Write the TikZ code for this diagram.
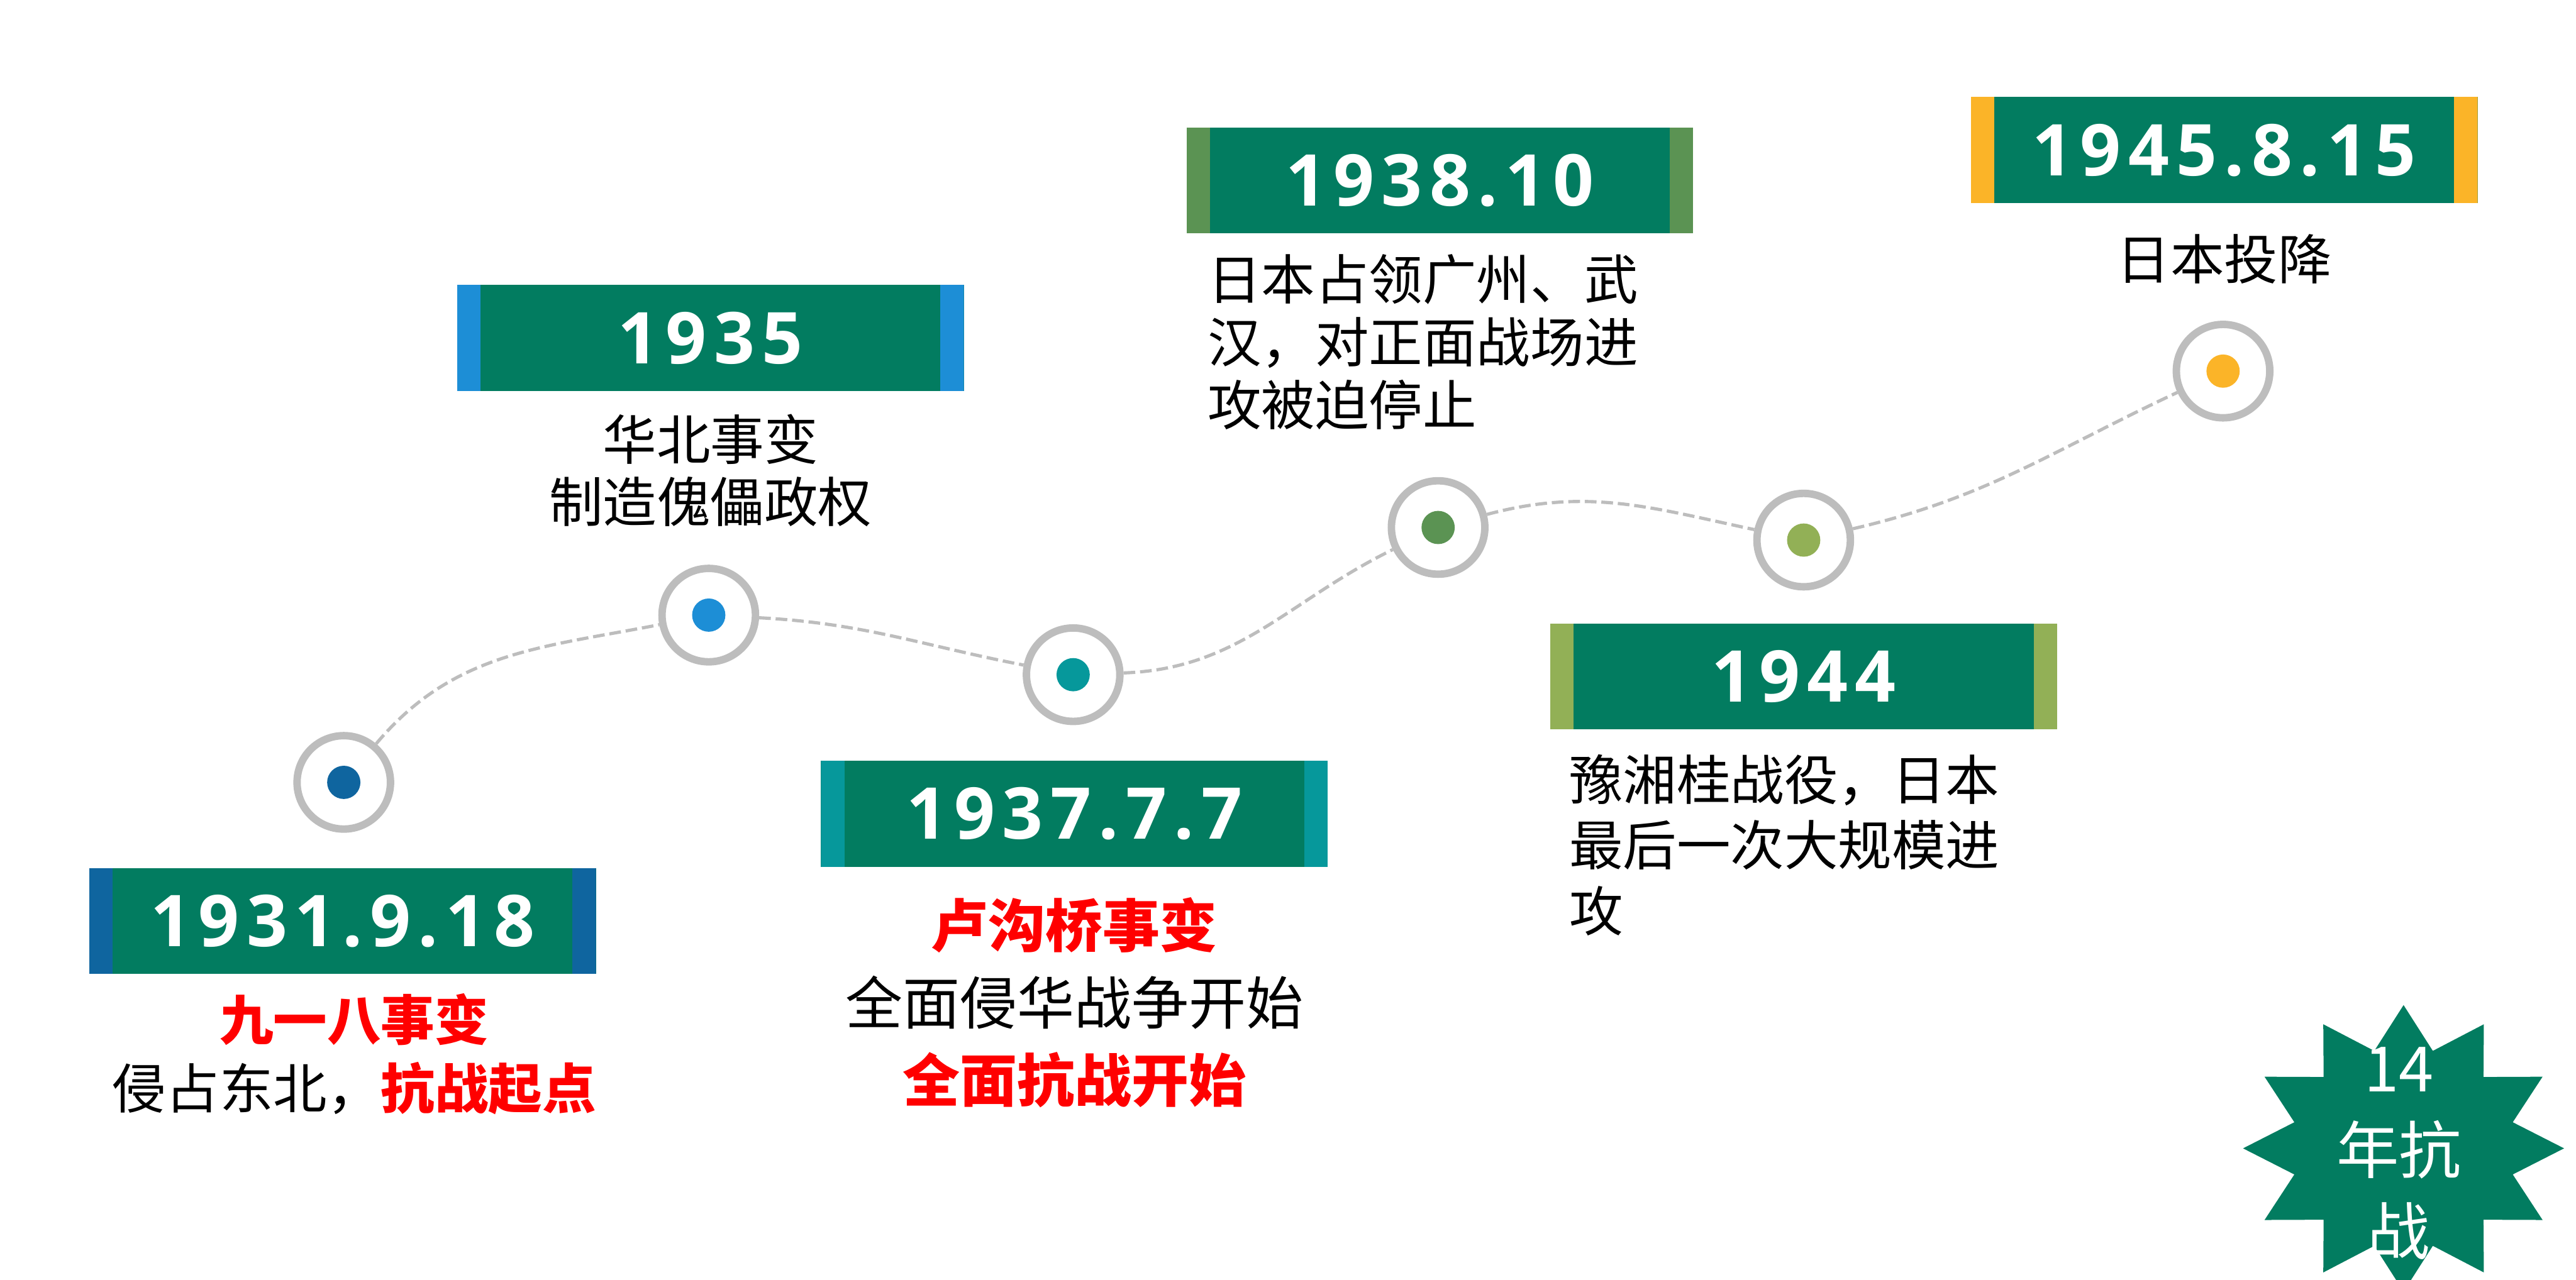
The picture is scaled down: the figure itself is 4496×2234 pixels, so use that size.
\documentclass[tikz,border=0pt]{standalone}
\usepackage{fontspec}
\setmainfont{Noto Sans CJK SC}
\newfontfamily\yearfont{Open Sans}[LetterSpace=10]
\usetikzlibrary{shapes.geometric, positioning}
\definecolor{boxgreen}{HTML}{027C60}
\definecolor{ringgray}{HTML}{BDBDBD}
\definecolor{alert}{HTML}{FF0000}
\definecolor{c1931}{HTML}{0F659F}
\definecolor{c1935}{HTML}{1D8ED6}
\definecolor{c1937}{HTML}{06989B}
\definecolor{c1938}{HTML}{5B9353}
\definecolor{c1944}{HTML}{92B056}
\definecolor{c1945}{HTML}{FBB428}

\begin{document}
\begin{tikzpicture}[
    x=0.01cm, y=0.01cm,
    yearbox/.style={rectangle, fill=boxgreen, minimum width=8.84cm, minimum height=1.85cm, inner sep=0pt,
      text=white, font=\yearfont\bfseries\fontsize{35.5pt}{40pt}\selectfont,
      path picture={
        \fill[#1] (path picture bounding box.south west) rectangle ([xshift=0.41cm]path picture bounding box.north west);
        \fill[#1] (path picture bounding box.south east) rectangle ([xshift=-0.41cm]path picture bounding box.north east);
      }},
    ring/.style={circle, draw=ringgray, line width=3.7pt, fill=white, minimum size=1.63cm, inner sep=0pt,
      path picture={\fill[#1] (path picture bounding box.center) circle (0.29cm);}},
    desc/.style={align=center, inner sep=0pt, font=\fontsize{26.7pt}{31pt}\selectfont},
    link/.style={draw=ringgray, line width=1.6pt, dash pattern=on 5.8pt off 2.4pt}
  ]
    \useasboundingbox (0,0) rectangle (4496,2234);

    \node[yearbox=c1931] (b1931) at (598,626) {1931.9.18};
    \node[yearbox=c1935] (b1935) at (1240,1644) {1935};
    \node[yearbox=c1937] (b1937) at (1875,813) {1937.7.7};
    \node[yearbox=c1938] (b1938) at (2513,1919) {1938.10};
    \node[yearbox=c1944] (b1944) at (3148,1053) {1944};
    \node[yearbox=c1945] (b1945) at (3882,1972) {1945.8.15};

    \node[ring=c1931] (p1931) at (600,868) {};
    \node[ring=c1935] (p1935) at (1237,1160) {};
    \node[ring=c1937] (p1937) at (1873,1056) {};
    \node[ring=c1938] (p1938) at (2510,1313) {};
    \node[ring=c1944] (p1944) at (3148,1291) {};
    \node[ring=c1945] (p1945) at (3880,1586) {};

    \node[desc, below=0.33cm of b1931, xshift=0.2cm, font=\fontsize{26.7pt}{33.9pt}\selectfont] (t1931)
      {{\color{alert}\bfseries 九一八事变}\\侵占东北，{\color{alert}\bfseries 抗战起点}};
    \node[desc, below=0.39cm of b1935] (t1935) {华北事变\\制造傀儡政权};
    \node[desc, below=0.52cm of b1937, font=\fontsize{28.4pt}{38.4pt}\selectfont] (t1937)
      {{\color{alert}\bfseries 卢沟桥事变}\\全面侵华战争开始\\{\color{alert}\bfseries 全面抗战开始}};
    \node[desc, align=left, anchor=north west, font=\fontsize{26.7pt}{31.3pt}\selectfont] (t1938)
      at ([shift={(0.37cm,-0.35cm)}]b1938.south west) {日本占领广州、武\\汉，对正面战场进\\攻被迫停止};
    \node[desc, align=left, anchor=north west, font=\fontsize{26.7pt}{32.7pt}\selectfont] (t1944)
      at ([shift={(0.33cm,-0.42cm)}]b1944.south west) {豫湘桂战役，日本\\最后一次大规模进\\攻};
    \node[desc, below=0.53cm of b1945] (t1945) {日本投降};

    \draw[link] (p1931) to[out=50, in=191] (p1935) to[out=-3, in=169] (p1937)
      to[out=2, in=206] (p1938) to[out=15, in=168] (p1944) to[out=13, in=205] (p1945);

    \node[star, star points=12, star point ratio=1.42, fill=boxgreen, minimum size=5cm, inner sep=0pt,
      xscale=1.12, transform shape] (badge) at (4195,229) {};
    \node[align=center, inner sep=0pt, text=white, font=\fontsize{31pt}{40.4pt}\selectfont] (badgetext)
      at ([shift={(-0.08cm,-0.09cm)}]badge.center) {14\\年抗\\战};
  \end{tikzpicture}
\end{document}
